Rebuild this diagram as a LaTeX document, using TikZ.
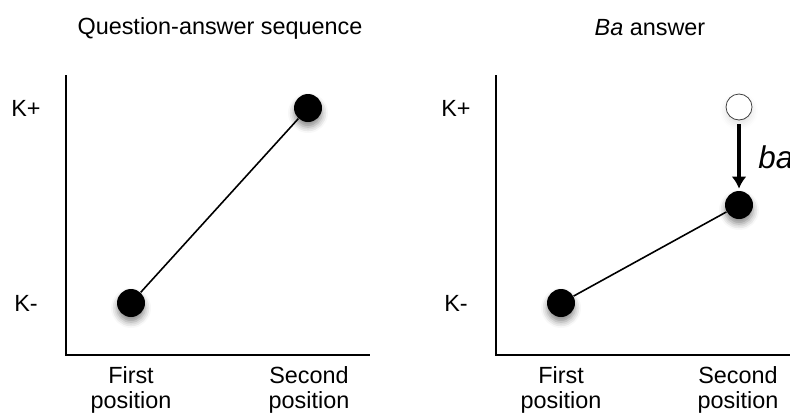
\documentclass[tikz,border=0pt]{standalone}
\usepackage{fontspec}
\setmainfont{Liberation Sans}
\usetikzlibrary{arrows.meta,shadows.blur}

\tikzset{
  dot/.style={circle,fill=black,inner sep=0pt,minimum size=14pt,
    blur shadow={shadow xshift=0pt,shadow yshift=-2.5pt,shadow blur radius=3pt,shadow opacity=45}},
  opendot/.style={circle,draw=black!75,line width=.4pt,fill=white,inner sep=0pt,minimum size=13pt},
  lbl/.style={align=center,inner sep=0pt,anchor=north,font=\fontsize{11.7}{12.5}\selectfont},
}

\begin{document}
\begin{tikzpicture}[x=.5pt,y=-.5pt,font=\fontsize{11.7}{12.5}\selectfont]
 \useasboundingbox (0,0) rectangle (790,413);
 % left panel
 \node (ttlA) at (220,28) {Question-answer sequence};
 \draw[line width=1pt] (65.5,75)--(65.5,354.5)--(370,354.5);
 \node (kpA) at (26,108) {K+};
 \node (kmA) at (26,303) {K-};
 \node[dot] (qA) at (131,303) {};
 \node[dot] (aA) at (308,108) {};
 \draw[line width=.8pt] (qA)--(aA);
 \node[lbl] (fA) at (131,366) {First\\position};
 \node[lbl] (sA) at (309,366) {Second\\position};
 % right panel
 \node (ttlB) at (650,28) {\textit{Ba} answer};
 \draw[line width=1pt] (495.5,75)--(495.5,354.5)--(800,354.5);
 \node (kpB) at (456,108) {K+};
 \node (kmB) at (456,303) {K-};
 \node[dot] (qB) at (561,303) {};
 \node[dot] (aB) at (739,205) {};
 \node[opendot,blur shadow={shadow xshift=0pt,shadow yshift=-2pt,shadow blur radius=3pt,shadow opacity=12}] (oB) at (739,107) {};
 \draw[line width=.8pt] (qB)--(aB);
 \draw[line width=2pt,-{Latex[length=6pt,width=7.5pt]},shorten >=1pt,shorten <=2pt] (oB)--(aB);
 \node[anchor=base west,inner sep=0pt,font=\fontsize{15.7}{18}\selectfont] (ba) at (758,168) {\textit{ba}};
 \node[lbl] (fB) at (561,366) {First\\position};
 \node[lbl] (sB) at (738,366) {Second\\position};
\end{tikzpicture}
\end{document}
